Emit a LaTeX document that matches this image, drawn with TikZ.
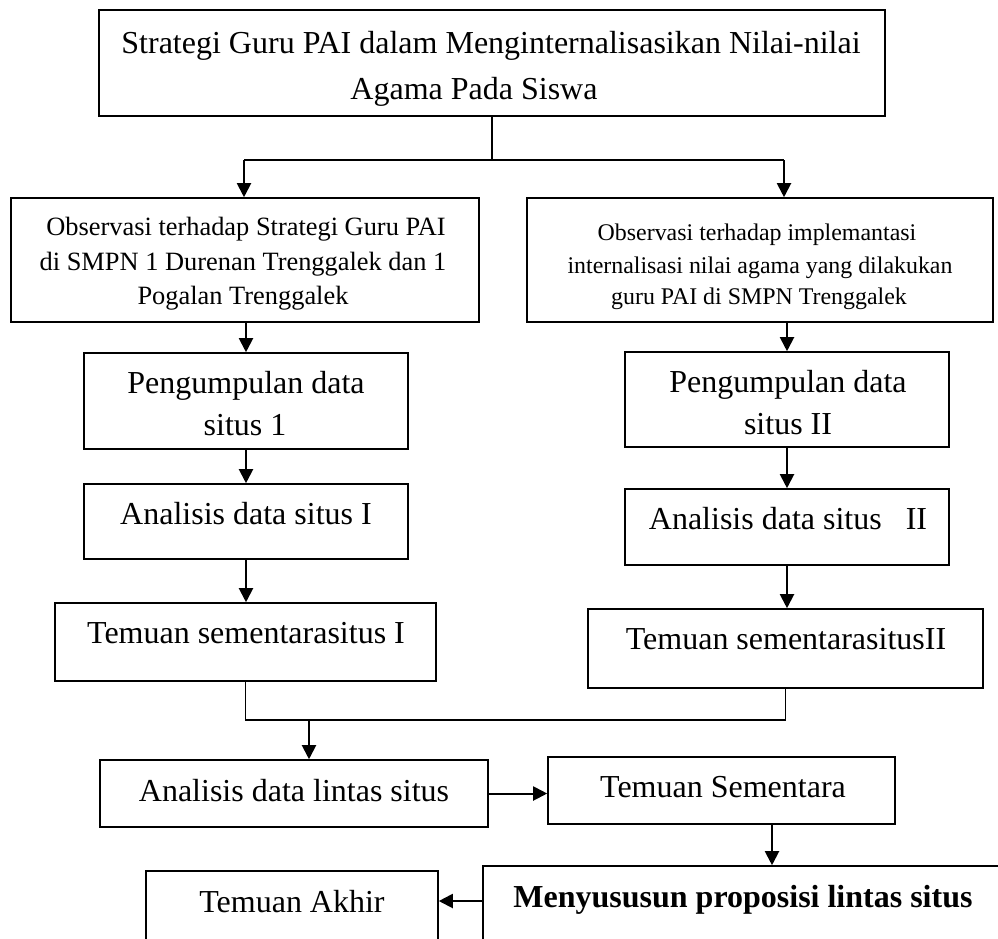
\documentclass[tikz,border=0pt]{standalone}
\usepackage{fontspec}
\setmainfont{Liberation Serif}
\usetikzlibrary{arrows.meta}
\tikzset{
  box/.style={draw, line width=1.6pt, inner sep=0pt, rectangle},
  arr/.style={line width=2pt, -{Triangle[width=14pt,length=14pt]}},
  trunk/.style={line width=1.3pt},
  big/.style={anchor=base, inner sep=0pt, font=\fontsize{32}{38}\selectfont},
  obsl/.style={anchor=base, inner sep=0pt, font=\fontsize{26.4}{32}\selectfont},
  obsr/.style={anchor=base, inner sep=0pt, font=\fontsize{23.9}{30}\selectfont},
  bigb/.style={anchor=base, inner sep=0pt, font=\fontsize{32}{38}\selectfont\bfseries}
}
\begin{document}
\begin{tikzpicture}[x=1pt,y=-1pt]
\useasboundingbox (0,0) rectangle (998,938);
\clip (0,0) rectangle (998,938);
% boxes
\node[box, minimum width=786pt, minimum height=106pt] (top) at (492,63) {};
\node[box, minimum width=468pt, minimum height=124pt] (ol) at (245,260) {};
\node[box, minimum width=466pt, minimum height=124pt] (or) at (760,260) {};
\node[box, minimum width=324pt, minimum height=96pt] (pl) at (246,401) {};
\node[box, minimum width=324pt, minimum height=75pt] (al) at (246,521.5) {};
\node[box, minimum width=381pt, minimum height=78pt] (tl) at (245.5,642) {};
\node[box, minimum width=324pt, minimum height=95pt] (pr) at (787,399.5) {};
\node[box, minimum width=324pt, minimum height=76pt] (ar) at (787,527) {};
\node[box, minimum width=395pt, minimum height=79pt] (tr) at (785.5,648.5) {};
\node[box, minimum width=388pt, minimum height=67pt] (alx) at (294,793.5) {};
\node[box, minimum width=347pt, minimum height=67pt] (ts) at (721.5,790.5) {};
\node[box, minimum width=578pt, minimum height=94pt] (mp) at (772,913) {};
\node[box, minimum width=292pt, minimum height=79pt] (ta) at (292,910.5) {};
% texts
\node[big] (t1) at (491,53) {Strategi Guru PAI dalam Menginternalisasikan Nilai-nilai};
\node[big] (t2) at (474,99) {Agama Pada Siswa};
\node[obsl] (ol1) at (246,235) {Observasi terhadap Strategi Guru PAI};
\node[obsl] (ol2) at (243,270) {di SMPN 1 Durenan Trenggalek dan 1};
\node[obsl] (ol3) at (243,304) {Pogalan Trenggalek};
\node[obsr] (or1) at (757,240) {Observasi terhadap implemantasi};
\node[obsr] (or2) at (760,273) {internalisasi nilai agama yang dilakukan};
\node[obsr] (or3) at (759,304) {guru PAI di SMPN Trenggalek};
\node[big] (pl1) at (246,393) {Pengumpulan data};
\node[big] (pl2) at (245,435) {situs 1};
\node[big] (al1) at (246,524) {Analisis data situs I};
\node[big] (tl1) at (246,643) {Temuan sementarasitus I};
\node[big] (pr1) at (788,392) {Pengumpulan data};
\node[big] (pr2) at (788,434) {situs II};
\node[big] (ar1) at (788,529) {Analisis data situs \ \ II};
\node[big] (tr1) at (786,649) {Temuan sementarasitusII};
\node[big] (alx1) at (294,801) {Analisis data lintas situs};
\node[big] (ts1) at (723,797) {Temuan Sementara};
\node[bigb] (mp1) at (743,907) {Menyususun proposisi lintas situs};
\node[big] (ta1) at (292,912) {Temuan Akhir};
% junctions
\coordinate (jl) at (244,160);
\coordinate (jr) at (784,160);
\coordinate (jm) at (309,720);
\coordinate (ja) at (0,901);
% connectors
\draw[trunk] (top.south) -- (top.south |- jl);
\draw[trunk] (jl) -- (jr);
\draw[arr] (jl) -- (jl |- ol.north);
\draw[arr] (jr) -- (jr |- or.north);
\draw[arr] (pl.north |- ol.south) -- (pl.north);
\draw[arr] (pl.south) -- (al.north);
\draw[arr] (al.south) -- (al.south |- tl.north);
\draw[arr] (pr.north |- or.south) -- (pr.north);
\draw[arr] (pr.south) -- (ar.north);
\draw[arr] (ar.south) -- (ar.south |- tr.north);
\draw[trunk] (tl.south) -- (tl.south |- jm) -- (tr.south |- jm) -- (tr.south);
\draw[arr] (jm) -- (jm |- alx.north);
\draw[arr] (alx.east) -- (alx.east -| ts.west);
\draw[arr] (ts.south -| mp.north) -- (mp.north);
\draw[arr] (mp.west |- ja) -- (ta.east |- ja);
\end{tikzpicture}
\end{document}
